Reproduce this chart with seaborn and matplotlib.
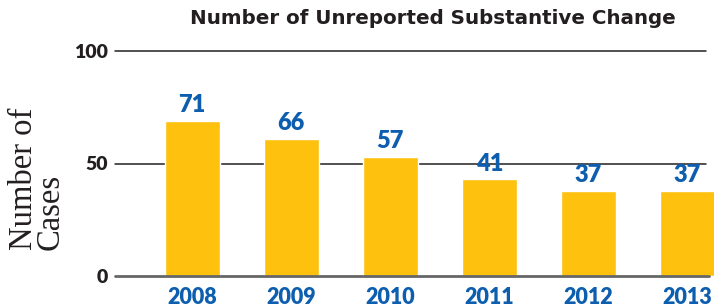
import matplotlib
matplotlib.use("Agg")
import matplotlib.pyplot as plt
import seaborn as sns

years = ["2008", "2009", "2010", "2011", "2012", "2013"]
bar_heights = [69, 61, 53, 43, 38, 38]      # bar heights as drawn
case_labels = [71, 66, 57, 41, 37, 37]      # printed counts

yellow = "#FEC20E"
blue = "#0D5EAF"
ink = "#231F20"

sns.set_style("white")
plt.rcParams["font.family"] = ["Lato", "DejaVu Sans"]

fig = plt.figure(figsize=(7.14, 3.08), dpi=100)
ax = fig.add_axes([115 / 714, 32 / 308, 600 / 714, 225 / 308])

sns.barplot(x=years, y=bar_heights, color=yellow, saturation=1, width=0.555,
            ax=ax, zorder=3)

ax.set_ylim(0, 100)
ax.set_xlim(-0.78, 5.28)
for v in (50, 100):
    ax.axhline(v, color=ink, linewidth=1.1, zorder=1, clip_on=False, xmax=0.985)
ax.axhline(0, color="#666666", linewidth=2, zorder=4, clip_on=False, xmax=0.99)

for i, (h, lab) in enumerate(zip(bar_heights, case_labels)):
    ax.annotate(str(lab), (i, h), xytext=(0, 6), textcoords="offset points",
                ha="center", va="baseline", color=blue, fontsize=17,
                fontweight="heavy")

ax.set_yticks([0, 50, 100])
ax.set_yticklabels(["0", "50", "100"], fontsize=14, fontweight="heavy", color=ink)
ax.set_xticks(range(len(years)))
ax.set_xticklabels(years, fontsize=15.5, fontweight="heavy", color=blue)
ax.tick_params(axis="y", length=0, pad=5)
ax.tick_params(axis="x", length=0, pad=8)
sns.despine(ax=ax, left=True, bottom=True)
ax.set_xlabel("")
ax.set_ylabel("")

fig.text(433 / 714, 1 - 19 / 308, "Number of Unreported Substantive Change",
         ha="center", va="center", fontsize=14.3, fontweight="bold",
         family="DejaVu Sans", color=ink)
fig.text(37 / 714, 1 - 250 / 308, "Number of\nCases", rotation=90,
         ha="center", va="bottom", multialignment="left",
         fontsize=23.5, family="Liberation Serif", color=ink, linespacing=0.85)

fig.savefig("out.png", dpi=100)
